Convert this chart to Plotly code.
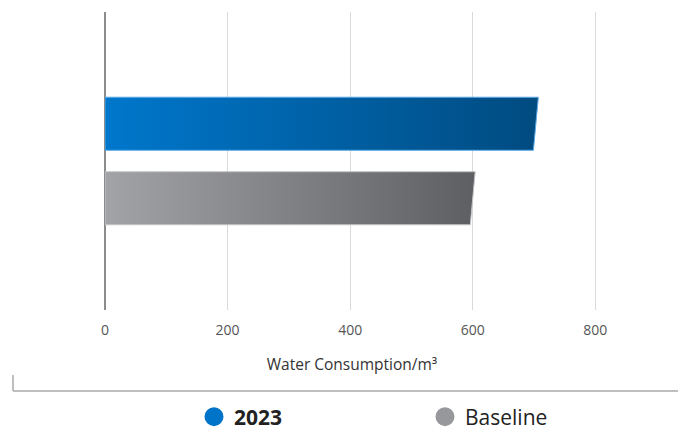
import plotly.graph_objects as go

categories = ["2023", "Baseline"]
values = [703, 600]
y_pos = [1, 0]
legend_names = ["<b>2023</b>", "Baseline"]
grad_colors = [("#0077CC", "#004B80"), ("#A2A3A6", "#5E5F62")]
edge_colors = ["#5AA9E8", "#C4C5C7"]
dot_colors = ["#0074C8", "#97989B"]

HALF = 0.356   # bar half-thickness (y units)
SLANT = 4      # slant offset of bar end (x units)

fig = go.Figure()
for cat, v, y, (c0, c1), ec in zip(categories, values, y_pos, grad_colors, edge_colors):
    xs = [0, v + SLANT, v - SLANT, 0, 0]
    ys = [y + HALF, y + HALF, y - HALF, y - HALF, y + HALF]
    fig.add_trace(go.Scatter(
        x=xs, y=ys, mode="lines", fill="toself",
        fillgradient=dict(type="horizontal", colorscale=[[0, c0], [1, c1]]),
        line=dict(color=ec, width=1),
        showlegend=False, hoverinfo="skip", name=cat,
    ))

for name, col in zip(legend_names, dot_colors):
    fig.add_trace(go.Scatter(
        x=[None], y=[None], mode="markers", name=name,
        marker=dict(symbol="circle", size=20, color=col, line=dict(color=col, width=3)),
    ))

L, T, PH, PW = 97, 4, 298, 494
fig.update_layout(
    width=686, height=433,
    margin=dict(l=L, r=686 - L - PW, t=T, b=433 - T - PH, autoexpand=False),
    paper_bgcolor="white", plot_bgcolor="white",
    font=dict(family="Open Sans, Noto Sans, sans-serif", color="#444"),
    xaxis=dict(
        range=[0, 806], tickvals=[0, 200, 400, 600, 800],
        showgrid=True, gridcolor="#D9D9D9", gridwidth=1,
        zeroline=True, zerolinecolor="#8C8C8C", zerolinewidth=2,
        showline=False, ticks="", ticklabelstandoff=10,
        tickfont=dict(size=14, color="#555"),
        title=dict(text="Water Consumption/m³", font=dict(size=15.5, color="#333"), standoff=21),
        fixedrange=True, automargin=False,
    ),
    yaxis=dict(
        range=[-1.5, 2.5], showticklabels=False, showgrid=False,
        zeroline=False, showline=False, ticks="", automargin=False,
    ),
    legend=dict(
        orientation="h", x=(194 - 105) / PW, xanchor="left",
        y=-(417 - 310) / PH, yanchor="middle",
        font=dict(size=21, color="#222"),
        entrywidth=186, entrywidthmode="pixels",
        bgcolor="rgba(0,0,0,0)",
    ),
    shapes=[
        dict(type="line", xref="paper", yref="paper",
             x0=(13 - 105) / PW, x1=(13 - 105) / PW,
             y0=(310 - 375) / PH, y1=(310 - 391) / PH,
             line=dict(color="#AAAAAA", width=1.5)),
        dict(type="line", xref="paper", yref="paper",
             x0=(13 - 105) / PW, x1=(690 - 105) / PW,
             y0=(310 - 391) / PH, y1=(310 - 391) / PH,
             line=dict(color="#AAAAAA", width=1.5)),
    ],
)

fig.write_html("out.html")
